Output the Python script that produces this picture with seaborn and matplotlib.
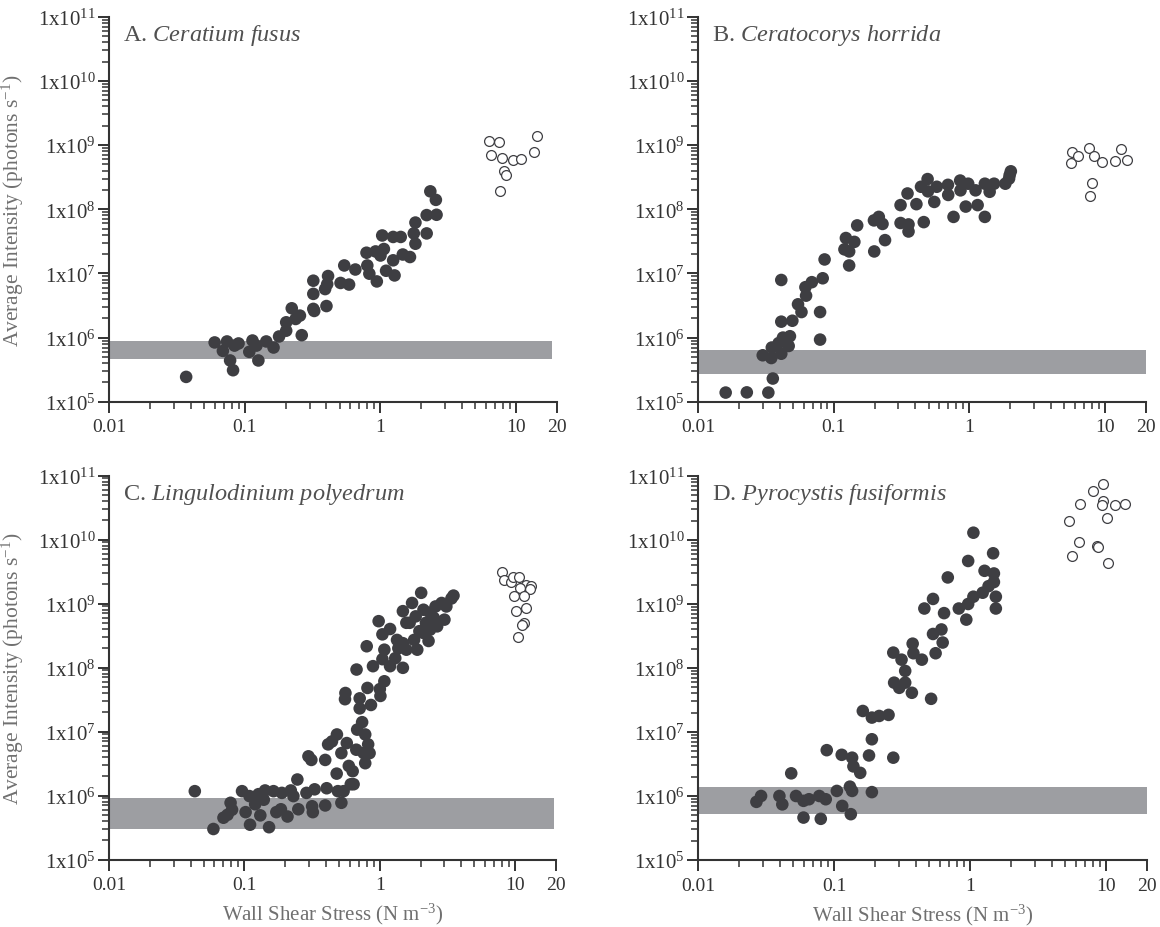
import numpy as np
import pandas as pd
import matplotlib
matplotlib.use("Agg")
import matplotlib.pyplot as plt
from matplotlib.ticker import FixedLocator, FuncFormatter, LogLocator, NullFormatter
import seaborn as sns

# ---------------- data ----------------
# A. Ceratium fusus
a_x_flow = [0.037, 0.060, 0.069, 0.074, 0.078, 0.082, 0.084, 0.090, 0.108, 0.114, 0.122, 0.126,
            0.144, 0.163, 0.179, 0.202, 0.202, 0.222, 0.237, 0.255, 0.263, 0.320, 0.320, 0.325,
            0.320, 0.391, 0.400, 0.411, 0.405, 0.508, 0.541, 0.587, 0.653, 0.789, 0.800, 0.828,
            0.920, 0.940, 1.00, 1.06, 1.03, 1.10, 1.27, 1.24, 1.24, 1.41, 1.46, 1.65, 1.76, 1.81,
            1.81, 2.19, 2.19, 2.33, 2.56, 2.59]
a_y_flow = [2.44e5, 8.4e5, 6.2e5, 8.7e5, 4.4e5, 3.1e5, 7.5e5, 8.1e5, 6.0e5, 9.0e5, 7.5e5, 4.4e5,
            8.7e5, 7.0e5, 1.04e6, 1.28e6, 1.73e6, 2.86e6, 1.95e6, 2.2e6, 1.09e6, 7.7e6, 2.8e6, 2.6e6,
            4.8e6, 5.7e6, 3.1e6, 9.1e6, 6.8e6, 7.1e6, 1.33e7, 6.7e6, 1.15e7, 2.1e7, 1.33e7, 9.9e6,
            2.2e7, 7.5e6, 1.9e7, 2.4e7, 3.9e7, 1.1e7, 9.3e6, 1.6e7, 3.7e7, 3.7e7, 1.97e7, 1.8e7, 4.2e7, 2.9e7,
            6.2e7, 4.2e7, 8.1e7, 1.9e8, 1.4e8, 8.2e7]
a_x_max = [6.35, 7.5, 6.55, 7.8, 9.4, 10.8, 8.2, 8.4, 7.66, 13.6, 14.3]
a_y_max = [1.17e9, 1.1e9, 7.0e8, 6.2e8, 5.9e8, 6.0e8, 3.9e8, 3.4e8, 1.94e8, 7.9e8, 1.36e9]
a_band = (4.6e5, 9.0e5, 18.5)

# B. Ceratocorys horrida
b_x_flow = [0.016, 0.0229, 0.033, 0.030, 0.0356, 0.0347, 0.0350, 0.0393, 0.0411, 0.0423, 0.0466,
            0.0476, 0.0411, 0.0411, 0.0496, 0.0546, 0.0579, 0.0626, 0.0619, 0.069, 0.0794, 0.0794,
            0.083, 0.0857, 0.120, 0.130, 0.123, 0.130, 0.142, 0.149, 0.198, 0.215, 0.229, 0.199,
            0.239, 0.311, 0.311, 0.350, 0.356, 0.356, 0.407, 0.440, 0.461, 0.492, 0.495, 0.551,
            0.575, 0.695, 0.698, 0.764, 0.855, 0.86, 0.98, 0.94, 1.11, 1.15, 1.30, 1.30, 1.41,
            1.52, 1.84, 1.96, 2.02, 1.98]
b_y_flow = [1.39e5, 1.4e5, 1.39e5, 5.3e5, 2.3e5, 4.8e5, 7.0e5, 8.2e5, 5.6e5, 1.0e6, 7.4e5,
            1.05e6, 1.77e6, 7.9e6, 1.83e6, 3.3e6, 2.5e6, 4.5e6, 6.1e6, 7.3e6, 2.5e6, 9.3e5,
            8.4e6, 1.65e7, 2.37e7, 1.33e7, 3.56e7, 2.2e7, 3.1e7, 5.6e7, 6.7e7, 7.6e7, 5.9e7, 2.2e7,
            3.3e7, 1.16e8, 6.1e7, 1.76e8, 5.8e7, 4.5e7, 1.2e8, 2.24e8, 6.3e7, 2.95e8, 1.9e8, 1.3e8,
            2.24e8, 2.4e8, 1.67e8, 7.6e7, 2.8e8, 1.97e8, 2.5e8, 1.1e8, 1.97e8, 1.16e8, 2.5e8, 7.6e7, 1.87e8,
            2.5e8, 2.5e8, 3.0e8, 3.9e8, 3.4e8]
b_x_max = [5.7, 5.6, 6.34, 7.56, 8.3, 9.42, 8.05, 7.7, 11.9, 13.1, 14.6]
b_y_max = [7.7e8, 5.2e8, 6.8e8, 8.9e8, 6.8e8, 5.4e8, 2.6e8, 1.6e8, 5.7e8, 8.7e8, 5.9e8]
b_band = (2.7e5, 6.3e5, 20)

# C. Lingulodinium polyedrum
c_x_flow = [0.043, 0.059, 0.070, 0.075, 0.079, 0.081, 0.096, 0.102, 0.109, 0.110, 0.120, 0.127,
            0.131, 0.139, 0.142, 0.152, 0.164, 0.172, 0.186, 0.189, 0.208, 0.220, 0.230, 0.246,
            0.250, 0.287, 0.297, 0.312, 0.316, 0.320, 0.330, 0.395, 0.395, 0.405, 0.415, 0.443,
            0.482, 0.480, 0.490, 0.520, 0.520, 0.540, 0.557, 0.553, 0.570, 0.590, 0.610, 0.630,
            0.640, 0.673, 0.680, 0.670, 0.710, 0.710, 0.740, 0.760, 0.780, 0.780, 0.800, 0.810,
            0.820, 0.840, 0.860, 0.890, 0.98, 1.01, 1.00, 1.045, 1.08, 1.08, 1.045, 1.19, 1.19,
            1.30, 1.37, 1.48, 1.48, 1.57, 1.66, 1.73, 1.79, 1.84, 1.89, 2.02, 2.07, 2.10, 2.19,
            2.29, 2.35, 2.50, 2.65, 2.86, 3.00, 3.10, 3.38, 3.50, 1.48, 1.57, 1.34, 1.96, 2.58, 2.35]
c_y_flow = [1.17e6, 3.0e5, 4.5e5, 5.0e5, 7.7e5, 6.0e5, 1.17e6, 5.5e5, 9.8e5, 3.5e5, 7.3e5, 1.05e6,
            4.9e5, 8.6e5, 1.2e6, 3.2e5, 1.17e6, 5.5e5, 6.1e5, 1.1e6, 4.7e5, 1.2e6, 9.8e5, 1.78e6,
            6.1e5, 1.1e6, 4.1e6, 3.6e6, 6.8e5, 5.5e5, 1.25e6, 3.6e6, 7.0e5, 1.3e6, 6.3e6, 7.0e6,
            9.0e6, 2.2e6, 1.17e6, 7.7e5, 4.6e6, 1.17e6, 4.0e7, 3.2e7, 6.6e6, 2.9e6, 1.5e6, 2.4e6,
            1.5e6, 9.3e7, 1.07e7, 5.2e6, 3.3e7, 2.3e7, 1.4e7, 4.6e6, 9.0e6, 3.2e6, 2.15e8, 4.8e7,
            6.3e6, 4.6e6, 2.6e7, 1.05e8, 5.3e8, 3.6e7, 4.6e7, 3.3e8, 1.9e8, 6.1e7, 1.35e8, 4.0e8, 1.05e8,
            1.4e8, 2.0e8, 9.9e7, 7.6e8, 1.9e8, 5.0e8, 1.02e9, 2.7e8, 6.3e8, 1.9e8, 1.47e9, 3.5e8, 8.0e8, 5.0e8,
            2.6e8, 7.2e8, 6.0e8, 4.4e8, 1.02e9, 5.6e8, 9.0e8, 1.2e9, 1.33e9, 2.4e8, 5.0e8, 2.7e8, 3.7e8, 9.0e8, 3.9e8]
c_x_max = [8.05, 8.3, 9.3, 9.6, 10.7, 12.1, 13.1, 12.9, 10.9, 9.8, 11.7, 10.1, 12.1, 11.7, 11.3, 10.5]
c_y_max = [3.1e9, 2.3e9, 2.2e9, 2.6e9, 2.6e9, 1.98e9, 1.85e9, 1.7e9, 1.75e9, 1.3e9, 1.3e9,
           7.6e8, 8.6e8, 5.0e8, 4.6e8, 3.0e8]
c_band = (2.95e5, 9.2e5, 19.5)

# D. Pyrocystis fusiformis
d_x_flow = [0.0269, 0.0291, 0.0397, 0.0417, 0.0485, 0.0526, 0.0597, 0.0597, 0.0655, 0.078, 0.080,
            0.087, 0.0885, 0.105, 0.114, 0.115, 0.131, 0.133, 0.136, 0.136, 0.139, 0.156, 0.163,
            0.181, 0.190, 0.190, 0.190, 0.215, 0.252, 0.273, 0.273, 0.314, 0.277, 0.302, 0.334,
            0.334, 0.374, 0.379, 0.384, 0.443, 0.462, 0.518, 0.535, 0.535, 0.559, 0.617, 0.630,
            0.645, 0.687, 0.828, 0.94, 0.97, 0.97, 1.06, 1.06, 1.24, 1.28, 1.37, 1.48, 1.50, 1.50,
            1.55, 1.55]
d_y_flow = [8.1e5, 1.0e6, 1.0e6, 7.4e5, 2.26e6, 1.0e6, 8.4e5, 4.6e5, 8.9e5, 1.0e6, 4.4e5,
            8.9e5, 5.2e6, 1.2e6, 4.4e6, 7.0e5, 1.4e6, 5.2e5, 1.2e6, 3.97e6, 2.9e6, 2.3e6, 2.13e7,
            4.3e6, 7.7e6, 1.15e6, 1.68e7, 1.78e7, 1.85e7, 3.97e6, 1.74e8, 1.35e8, 5.9e7, 4.9e7, 9.0e7,
            5.9e7, 4.1e7, 2.4e8, 1.7e8, 1.35e8, 8.5e8, 3.3e7, 1.2e9, 3.4e8, 1.7e8, 4.0e8, 2.5e8,
            7.2e8, 2.6e9, 8.5e8, 5.7e8, 4.7e9, 1.0e9, 1.3e9, 1.3e10, 1.5e9, 3.3e9, 1.9e9, 6.2e9, 3.0e9, 2.2e9,
            1.3e9, 8.5e8]
d_x_max = [5.33, 5.6, 6.35, 6.4, 8.05, 8.58, 8.8, 9.55, 9.55, 9.4, 10.2, 10.3, 11.7, 13.7]
d_y_max = [1.96e10, 5.6e9, 9.4e9, 3.7e10, 5.8e10, 8.1e9, 7.8e9, 7.6e10, 4.0e10, 3.5e10, 2.2e10,
           4.3e9, 3.5e10, 3.7e10]
d_band = (5.2e5, 1.37e6, 20)

panel_letters = ["A.", "B.", "C.", "D."]
species = ["Ceratium fusus", "Ceratocorys horrida", "Lingulodinium polyedrum", "Pyrocystis fusiformis"]
x_ticks = [0.01, 0.1, 1, 10, 20]
x_tick_labels = ["0.01", "0.1", "1", "10", "20"]
y_exponents = [5, 6, 7, 8, 9, 10, 11]

# ---------------- style ----------------
sns.set_theme(style="ticks")
plt.rcParams["font.family"] = ["Liberation Serif", "DejaVu Serif"]
plt.rcParams["mathtext.fontset"] = "custom"
plt.rcParams["mathtext.rm"] = "Liberation Serif"
plt.rcParams["mathtext.it"] = "Liberation Serif:italic"

FILL = "#3e3e42"
BAND = "#9d9ea2"
AXIS = "#333333"
LABEL = "#707070"
TITLE = "#505050"

fig = plt.figure(figsize=(11.6, 9.28), dpi=100)
positions = [
    [0.0940, 0.5660, 0.3862, 0.4149],
    [0.6017, 0.5660, 0.3862, 0.4149],
    [0.0940, 0.0727, 0.3853, 0.4138],
    [0.6017, 0.0722, 0.3870, 0.4138],
]
panels = [
    (a_x_flow, a_y_flow, a_x_max, a_y_max, a_band),
    (b_x_flow, b_y_flow, b_x_max, b_y_max, b_band),
    (c_x_flow, c_y_flow, c_x_max, c_y_max, c_band),
    (d_x_flow, d_y_flow, d_x_max, d_y_max, d_band),
]


def x_label_text(v, pos):
    for t, lab in zip(x_ticks, x_tick_labels):
        if np.isclose(v, t):
            return lab
    return ""


def y_label_text(v, pos):
    return r"$\mathregular{1x10^{%d}}$" % int(round(np.log10(v)))


for i, (pos, (xf, yf, xm, ym, band)) in enumerate(zip(positions, panels)):
    ax = fig.add_axes(pos)
    ax.set_xscale("log")
    ax.set_yscale("log")

    # detection-limit band
    lo, hi, xend = band
    ax.fill_between([0.01, xend], [lo, lo], [hi, hi], color=BAND, linewidth=0, zorder=1)

    flow = pd.DataFrame({"stress": xf, "intensity": yf})
    peak = pd.DataFrame({"stress": xm, "intensity": ym})
    sns.scatterplot(data=flow, x="stress", y="intensity", ax=ax, s=82, color=FILL,
                    edgecolor="none", linewidth=0, zorder=3, legend=False)
    sns.scatterplot(data=peak, x="stress", y="intensity", ax=ax, s=50, facecolor="white",
                    edgecolor=FILL, linewidth=0.9, zorder=3, legend=False)

    ax.set_xlim(0.01, 20)
    ax.set_ylim(1e5, 1e11)

    ax.xaxis.set_major_locator(FixedLocator(x_ticks))
    ax.xaxis.set_major_formatter(FuncFormatter(x_label_text))
    ax.xaxis.set_minor_locator(LogLocator(base=10, subs=np.arange(2, 10), numticks=20))
    ax.xaxis.set_minor_formatter(NullFormatter())

    ax.yaxis.set_major_locator(FixedLocator([10.0 ** e for e in y_exponents]))
    ax.yaxis.set_major_formatter(FuncFormatter(y_label_text))
    ax.yaxis.set_minor_locator(LogLocator(base=10, subs=np.arange(2, 10), numticks=20))
    ax.yaxis.set_minor_formatter(NullFormatter())

    for side in ("top", "right"):
        ax.spines[side].set_visible(False)
    for side in ("left", "bottom"):
        ax.spines[side].set_color(AXIS)
        ax.spines[side].set_linewidth(1.5)
    ax.tick_params(axis="both", which="major", direction="out", length=8, width=1.4,
                   color=AXIS, labelcolor=AXIS)
    ax.tick_params(axis="both", which="minor", direction="out", length=5, width=1.1, color=AXIS)
    ax.tick_params(axis="y", which="major", labelsize=15, pad=1.5)
    ax.tick_params(axis="x", which="major", labelsize=14, pad=4)
    ax.set_xlabel("")
    ax.set_ylabel("")

    ax.text(0.031, 0.94, panel_letters[i] + " $\\mathit{" + species[i].replace(" ", "\\ ") + "}$",
            transform=ax.transAxes, fontsize=17.5, color=TITLE, va="baseline", ha="left")

    if i in (0, 2):
        ax.set_ylabel(r"Average Intensity (photons s$^{\mathregular{-1}}$)", fontsize=15.5, color=LABEL)
        ax.yaxis.set_label_coords(-0.185, 0.5)
    if i in (2, 3):
        ax.set_xlabel(r"Wall Shear Stress (N m$^{\mathregular{-3}}$)", fontsize=15, color=LABEL)
        ax.xaxis.set_label_coords(0.5, -0.108)

fig.savefig("out.png", dpi=100)
